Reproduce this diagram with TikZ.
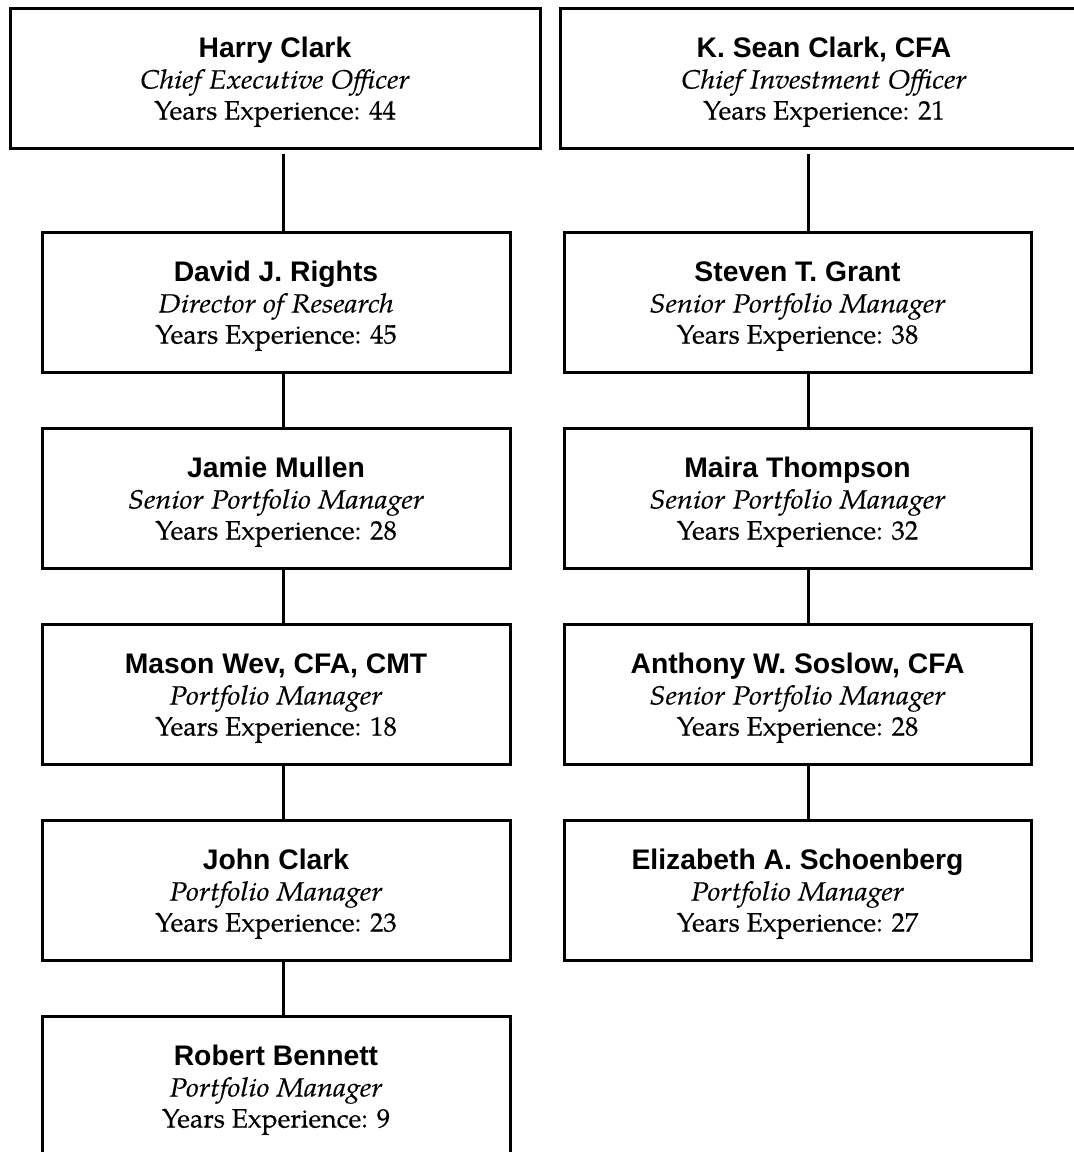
\documentclass[tikz,border=0pt]{standalone}
\usepackage{fontspec}
\newfontfamily\namefam{Liberation Sans}
\newfontfamily\serifam[FakeBold=0.35]{TeX Gyre Pagella}
\newfontfamily\titlefam[FakeStretch=1.1, FakeBold=0.35]{TeX Gyre Pagella}
\newcommand\namefont{\namefam\bfseries\fontsize{28.3}{31}\selectfont}
\newcommand\titlefont{\titlefam\itshape\fontsize{26.4}{31}\selectfont}
\newcommand\yearsfont{\serifam\fontsize{26.6}{31}\selectfont}
\newcommand\cardtext[3]{\raisebox{-4.3pt}[\height][\depth]{\begin{tabular}{@{}c@{}}{\namefont #1}\\{\titlefont #2}\\{\yearsfont #3}\end{tabular}}}
\tikzset{
  card/.style={draw=black, line width=3pt, inner sep=0pt, minimum height=140pt, font=\yearsfont, fill=white},
  topcard/.style={card, minimum width=530pt},
  lcard/.style={card, minimum width=468pt},
  rcard/.style={card, minimum width=467pt},
  conn/.style={draw=black, line width=3pt}
}
\begin{document}
\begin{tikzpicture}[x=1pt, y=-1pt]
\useasboundingbox (0,0) rectangle (1074,1152);
\coordinate (lx) at (283,0);
\coordinate (rx) at (808,0);
% top row
\node[topcard] (ceo) at (275,78) {\cardtext{Harry Clark}{Chief Executive Officer}{Years Experience: 44}};
\node[topcard, minimum width=528pt] (cio) at (824,78) {\cardtext{K. Sean Clark, CFA}{Chief Investment Officer}{Years Experience: 21}};
% left column
\node[lcard] (l1) at (276,302) {\cardtext{David J. Rights}{Director of Research}{Years Experience: 45}};
\node[lcard] (l2) at (276,498) {\cardtext{Jamie Mullen}{Senior Portfolio Manager}{Years Experience: 28}};
\node[lcard] (l3) at (276,694) {\cardtext{Mason Wev, CFA, CMT}{Portfolio Manager}{Years Experience: 18}};
\node[lcard] (l4) at (276,890) {\cardtext{John Clark}{Portfolio Manager}{Years Experience: 23}};
\node[lcard] (l5) at (276,1086) {\cardtext{Robert Bennett}{Portfolio Manager}{Years Experience: 9}};
% right column
\node[rcard] (r1) at (797.5,302) {\cardtext{Steven T. Grant}{Senior Portfolio Manager}{Years Experience: 38}};
\node[rcard] (r2) at (797.5,498) {\cardtext{Maira Thompson}{Senior Portfolio Manager}{Years Experience: 32}};
\node[rcard] (r3) at (797.5,694) {\cardtext{Anthony W. Soslow, CFA}{Senior Portfolio Manager}{Years Experience: 28}};
\node[rcard] (r4) at (797.5,890) {\cardtext{Elizabeth A. Schoenberg}{Portfolio Manager}{Years Experience: 27}};
% connectors
\draw[conn] ([yshift=-4pt]ceo.south -| lx) -- (l1.north -| lx);
\draw[conn] (l1.south -| lx) -- (l2.north -| lx);
\draw[conn] (l2.south -| lx) -- (l3.north -| lx);
\draw[conn] (l3.south -| lx) -- (l4.north -| lx);
\draw[conn] (l4.south -| lx) -- (l5.north -| lx);
\draw[conn] ([yshift=-4pt]cio.south -| rx) -- (r1.north -| rx);
\draw[conn] (r1.south -| rx) -- (r2.north -| rx);
\draw[conn] (r2.south -| rx) -- (r3.north -| rx);
\draw[conn] (r3.south -| rx) -- (r4.north -| rx);
\end{tikzpicture}
\end{document}
